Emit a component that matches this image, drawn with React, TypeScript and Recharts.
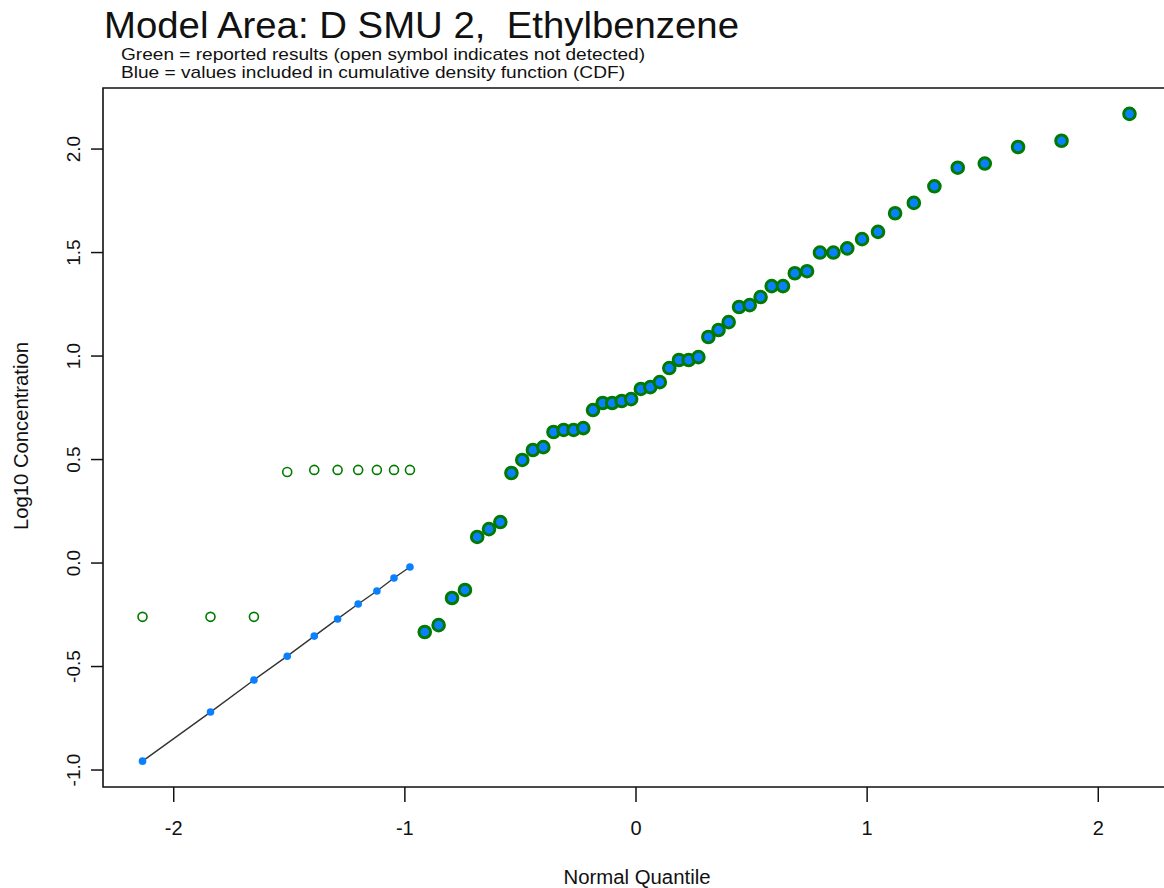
import React from 'react';
import { ScatterChart, Scatter, XAxis, YAxis, ReferenceArea } from 'recharts';

// normal quantiles of the 60 samples (plotting positions)
const quantiles = [
  -2.135, -1.841, -1.653, -1.509, -1.392, -1.291, -1.202, -1.121, -1.047, -0.978,
  -0.914, -0.854, -0.796, -0.740, -0.687, -0.636, -0.587, -0.539, -0.492, -0.446,
  -0.401, -0.357, -0.313, -0.270, -0.228, -0.186, -0.144, -0.103, -0.062, -0.021,
  0.021, 0.062, 0.103, 0.144, 0.186, 0.228, 0.270, 0.313, 0.357, 0.401,
  0.446, 0.492, 0.539, 0.587, 0.636, 0.687, 0.740, 0.796, 0.854, 0.914,
  0.978, 1.047, 1.121, 1.202, 1.291, 1.392, 1.509, 1.653, 1.841, 2.135
];

// non-detects: reported detection limits (open green) and CDF estimates (blue)
const nonDetectReported = [-0.26, -0.26, -0.26, 0.44, 0.45, 0.45, 0.45, 0.45, 0.45, 0.45];
const nonDetectCdf = [-0.957, -0.72, -0.565, -0.45, -0.353, -0.27, -0.198, -0.135, -0.072, -0.019];

// detected results, log10 concentration
const detected = [
  -0.333, -0.3, -0.169, -0.13, 0.126, 0.164, 0.198, 0.435, 0.498, 0.546,
  0.56, 0.633, 0.643, 0.643, 0.652, 0.739, 0.773, 0.773, 0.783, 0.792,
  0.841, 0.85, 0.874, 0.942, 0.981, 0.981, 0.995, 1.092, 1.126, 1.164,
  1.237, 1.246, 1.285, 1.338, 1.338, 1.4, 1.41, 1.5, 1.5, 1.52,
  1.565, 1.6, 1.69, 1.74, 1.82, 1.91, 1.93, 2.01, 2.04, 2.17
];

const xTicks = [-2, -1, 0, 1, 2];
const yTicks = [-1, -0.5, 0, 0.5, 1, 1.5, 2];
const xDomain = [-2.306, 2.306];
const yDomain = [-1.082, 2.295];

const nd = nonDetectReported.length;
const openData = nonDetectReported.map((y, i) => ({ x: quantiles[i], y }));
const cdfData = nonDetectCdf.map((y, i) => ({ x: quantiles[i], y }));
const detData = detected.map((y, i) => ({ x: quantiles[nd + i], y }));

const FONT = '"Liberation Sans", Arial, Helvetica, sans-serif';
const GREEN = '#007a00';
const BLUE = '#0a80ff';

const XTick = (props: any) => (
  <text x={props.x} y={835} textAnchor="middle" fontSize={20} fontFamily={FONT} fill="#111">
    {props.payload.value}
  </text>
);

const YTick = (props: any) => (
  <text
    x={74}
    y={props.y}
    transform={`rotate(-90, 74, ${props.y})`}
    textAnchor="middle"
    dominantBaseline="central"
    fontSize={19}
    fontFamily={FONT}
    fill="#111"
  >
    {Number(props.payload.value).toFixed(1)}
  </text>
);

const App = () => {
  return (
    <div style={{ position: 'absolute', left: 0, top: 0, width: 1164, height: 888, overflow: 'hidden', background: '#fff', fontFamily: FONT }}>
      <ScatterChart width={1180} height={888} margin={{ top: 88, right: 11, bottom: 41, left: 43 }}>
        <XAxis
          type="number"
          dataKey="x"
          domain={xDomain}
          ticks={xTicks}
          allowDataOverflow
          axisLine={false}
          tickSize={15}
          tickLine={{ stroke: '#111', strokeWidth: 1.5 }}
          tick={<XTick />}
          height={60}
        />
        <YAxis
          type="number"
          dataKey="y"
          domain={yDomain}
          ticks={yTicks}
          allowDataOverflow
          axisLine={false}
          tickSize={12}
          tickLine={{ stroke: '#111', strokeWidth: 1.5 }}
          tick={<YTick />}
          width={60}
        />
        <ReferenceArea
          x1={xDomain[0]}
          x2={xDomain[1]}
          y1={yDomain[0]}
          y2={yDomain[1]}
          fill="#fff"
          fillOpacity={0}
          stroke="#111"
          strokeWidth={1.6}
          ifOverflow="visible"
        />
        <Scatter
          data={openData}
          isAnimationActive={false}
          shape={(p: any) => <circle cx={p.cx} cy={p.cy} r={4.5} fill="#fff" stroke={GREEN} strokeWidth={1.6} />}
        />
        <Scatter
          data={cdfData}
          isAnimationActive={false}
          line={{ stroke: '#333', strokeWidth: 1.4 }}
          shape={(p: any) => <circle cx={p.cx} cy={p.cy} r={3.8} fill={BLUE} />}
        />
        <Scatter
          data={detData}
          isAnimationActive={false}
          shape={(p: any) => <circle cx={p.cx} cy={p.cy} r={5.8} fill={BLUE} stroke={GREEN} strokeWidth={3} />}
        />
      </ScatterChart>
      <svg width={1164} height={888} style={{ position: 'absolute', left: 0, top: 0, pointerEvents: 'none' }}>
        <text x={104} y={38} fontSize={37} fontFamily={FONT} fill="#111" textLength={635} lengthAdjust="spacingAndGlyphs" style={{ whiteSpace: 'pre' }}>
          {'Model Area: D SMU 2,  Ethylbenzene'}
        </text>
        <text x={121} y={60} fontSize={17} fontFamily={FONT} fill="#111" textLength={524} lengthAdjust="spacingAndGlyphs">
          Green = reported results (open symbol indicates not detected)
        </text>
        <text x={121} y={78} fontSize={17} fontFamily={FONT} fill="#111" textLength={504} lengthAdjust="spacingAndGlyphs">
          Blue = values included in cumulative density function (CDF)
        </text>
        <text x={637} y={884} fontSize={20} fontFamily={FONT} fill="#111" textAnchor="middle" textLength={147} lengthAdjust="spacingAndGlyphs">
          Normal Quantile
        </text>
        <text
          x={28}
          y={436}
          transform="rotate(-90, 28, 436)"
          fontSize={20}
          fontFamily={FONT}
          fill="#111"
          textAnchor="middle"
          textLength={188}
          lengthAdjust="spacingAndGlyphs"
        >
          Log10 Concentration
        </text>
      </svg>
    </div>
  );
};

export default App;
